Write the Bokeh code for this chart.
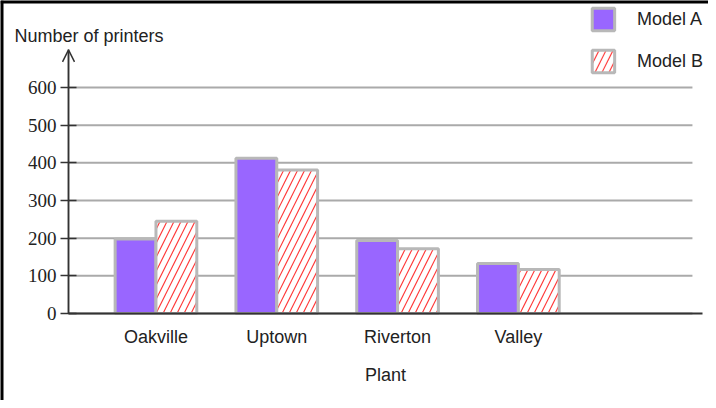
from bokeh.plotting import figure
from bokeh.models import (ColumnDataSource, Range1d, FixedTicker, Label, Arrow, OpenHead, Span)
from bokeh.transform import dodge
from bokeh.embed import file_html
from bokeh.resources import INLINE

categories = ["Oakville", "Uptown", "Riverton", "Valley"]
model_a = [198, 412, 194, 133]
model_b = [245, 381, 172, 117]
y_ticks = [0, 100, 200, 300, 400, 500, 600]
y_title = "Number of printers"
x_title = "Plant"

positions = list(range(len(categories)))
src = ColumnDataSource(dict(x=positions, a=model_a, b=model_b))

# layout constants (frame == whole canvas)
X_START, X_END = -1.287, 4.574
Y_START, Y_END = -231, 831
AXIS_X = -0.724
AXIS_RIGHT = 4.524
GRID_RIGHT = 4.441
Y_TOP = 700

p = figure(width=708, height=400, output_backend="svg", toolbar_location=None,
           x_range=Range1d(X_START, X_END), y_range=Range1d(Y_START, Y_END),
           min_border=0, min_border_left=0, min_border_right=0,
           min_border_top=0, min_border_bottom=0)
p.outline_line_color = None
p.background_fill_color = "white"
p.border_fill_color = "white"

# gridlines (from the y tick list), stopping short of the right edge
p.xgrid.visible = False
p.ygrid.visible = False
p.segment(x0=[AXIS_X] * len(y_ticks), x1=[GRID_RIGHT] * len(y_ticks), y0=y_ticks, y1=y_ticks,
          line_color="#aaaaaa", line_width=2)

BW = 0.338
OUT = "#b8b8b8"
p.vbar(x=dodge("x", -BW / 2, range=p.x_range), top="a", width=BW, source=src,
       fill_color="#9966ff", line_color=OUT, line_width=3, legend_label="Model A")
p.vbar(x=dodge("x", BW / 2, range=p.x_range), top="b", width=BW, source=src,
       fill_color="white", line_color=OUT, line_width=3,
       hatch_pattern="/", hatch_color="#ff3b3b", hatch_weight=1.2, hatch_scale=14,
       legend_label="Model B")

# y axis, drawn inside the frame
ya = p.yaxis[0]
ya.fixed_location = AXIS_X
ya.ticker = FixedTicker(ticks=y_ticks)
ya.bounds = (0, Y_TOP)
ya.axis_line_color = "#333333"
ya.axis_line_width = 1.5
ya.major_tick_in = 8
ya.major_tick_out = 8
ya.major_tick_line_color = "#333333"
ya.major_tick_line_width = 1.5
ya.minor_tick_line_color = None
ya.major_label_standoff = 4
ya.major_label_text_font = "Liberation Serif"
ya.major_label_text_font_size = "19px"
ya.major_label_text_color = "#222222"

# x axis, drawn inside the frame at y = 0
xa = p.xaxis[0]
xa.fixed_location = 0
xa.ticker = FixedTicker(ticks=positions)
xa.bounds = (AXIS_X, AXIS_RIGHT)
xa.major_label_overrides = {i: c for i, c in zip(positions, categories)}
xa.axis_line_color = "#333333"
xa.axis_line_width = 2
xa.major_tick_in = 0
xa.major_tick_out = 0
xa.minor_tick_line_color = None
xa.major_label_standoff = 14
xa.major_label_text_font = "Liberation Sans"
xa.major_label_text_font_size = "18px"
xa.major_label_text_color = "#222222"
xa.axis_label = x_title
xa.axis_label_standoff = 14
xa.axis_label_text_font = "Liberation Sans"
xa.axis_label_text_font_size = "18px"
xa.axis_label_text_font_style = "normal"
xa.axis_label_text_color = "#222222"

# arrow on y axis
p.add_layout(Arrow(end=OpenHead(size=12, line_color="#333333", line_width=1.5),
                   x_start=AXIS_X, y_start=0, x_end=AXIS_X, y_end=Y_TOP,
                   line_color="#333333", line_width=1.5))

# y title
p.add_layout(Label(x=AXIS_X, y=738, x_offset=-54, text=y_title, text_baseline="middle",
                   text_font="Liberation Sans", text_font_size="18px", text_color="#222222"))

# frame border (left and top), half of the width is clipped at the edge
p.add_layout(Span(location=X_START, dimension="height", line_color="black", line_width=6))
p.add_layout(Span(location=Y_END, dimension="width", line_color="black", line_width=6))

# legend
lg = p.legend[0]
lg.location = "top_right"
lg.margin = 5
lg.padding = 0
lg.border_line_color = None
lg.background_fill_alpha = 0
lg.glyph_width = 28
lg.glyph_height = 28
lg.spacing = 14
lg.label_standoff = 20
lg.label_text_font = "Liberation Sans"
lg.label_text_font_size = "18px"
lg.label_text_color = "#222222"

open("out.html", "w").write(file_html(p, INLINE))
